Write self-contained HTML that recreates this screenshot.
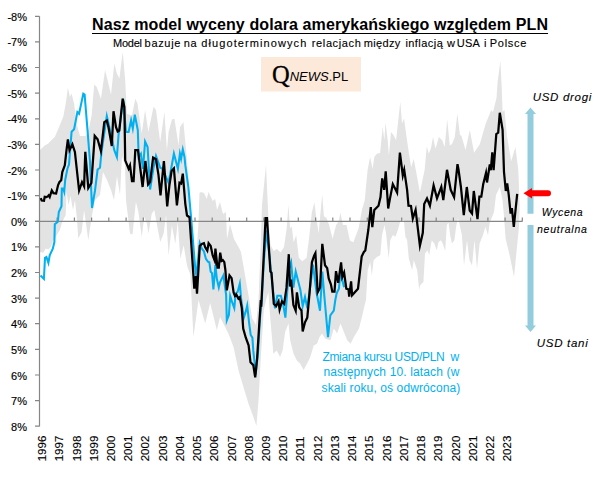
<!DOCTYPE html>
<html><head><meta charset="utf-8"><style>
html,body{margin:0;padding:0;background:#fff;}
body{width:606px;height:477px;overflow:hidden;position:relative;font-family:"Liberation Sans",sans-serif;}
svg{position:absolute;left:0;top:0;}
.t{position:absolute;white-space:nowrap;}
.sw{position:absolute;top:0;white-space:nowrap;}
.it{-webkit-text-stroke:0.1px #000;}
</style></head><body>
<svg width="606" height="477" viewBox="0 0 606 477">
<polygon points="40.0,150.0 44.7,145.4 48.0,143.7 51.4,140.3 54.8,137.0 59.8,125.2 63.2,117.1 65.7,103.7 67.9,87.8 69.9,97.0 71.6,93.6 74.1,103.7 76.6,123.8 80.0,136.0 86.0,136.0 89.0,128.0 91.7,115.0 94.2,84.4 96.7,86.9 100.9,98.7 105.1,70.1 107.6,80.2 111.0,94.5 114.3,63.4 116.9,73.5 119.4,78.5 122.7,51.7 125.2,80.2 126.9,113.8 132.0,115.4 135.3,98.7 137.5,103.4 141.7,133.6 145.1,110.1 148.4,132.0 153.5,106.8 156.0,110.1 160.2,142.0 164.4,111.8 166.9,150.4 168.6,132.0 171.9,119.4 174.4,118.5 178.6,145.4 180.0,126.9 183.4,121.9 186.7,157.1 190.0,200.0 192.0,250.0 196.0,262.0 198.5,222.0 199.5,193.0 201.0,192.0 204.0,193.0 206.8,199.0 208.5,192.0 212.7,201.0 215.2,199.0 217.0,210.0 220.0,202.0 223.0,214.0 226.0,212.0 227.0,239.0 230.0,224.0 234.0,239.0 238.8,247.6 241.0,252.0 249.0,298.0 252.0,318.0 256.0,325.0 258.5,300.0 260.5,250.0 262.0,205.0 266.0,165.0 268.5,219.7 270.5,245.0 273.7,250.9 277.0,249.0 280.6,252.6 284.0,247.0 286.7,228.3 288.4,204.9 290.1,228.3 291.8,226.6 293.6,242.2 296.2,235.3 298.8,257.8 302.3,261.3 306.6,257.8 309.2,237.0 311.8,212.7 314.4,202.3 316.1,216.2 318.7,233.5 320.5,212.7 322.2,194.5 323.9,216.2 326.5,217.9 329.1,224.9 332.6,238.7 336.1,224.9 338.7,221.4 340.4,212.7 343.0,224.9 346.5,224.9 349.9,240.5 353.4,242.2 358.6,228.3 362.1,209.3 364.7,200.6 367.6,170.0 370.1,157.1 372.6,168.9 374.3,157.1 376.8,153.8 380.1,152.9 382.7,126.9 384.3,140.3 385.5,122.7 387.7,140.3 388.9,155.4 391.0,132.0 393.6,135.3 396.1,140.3 400.3,101.7 402.0,123.6 404.0,118.5 407.0,140.3 409.5,157.1 411.2,167.2 413.7,158.8 416.2,172.0 419.9,192.6 424.6,170.0 426.8,146.2 428.8,153.8 431.0,148.0 433.0,137.0 435.5,148.7 438.9,137.0 442.2,140.3 444.7,147.0 447.2,119.4 449.8,145.4 452.0,144.0 454.8,137.0 457.3,113.5 460.0,135.3 461.3,135.6 465.5,149.9 469.8,129.9 474.1,152.7 479.8,144.2 485.5,124.2 491.2,109.9 493.0,112.0 496.5,98.0 497.6,82.0 500.4,60.7 501.6,85.0 502.6,112.0 504.5,110.0 506.9,135.6 511.2,161.3 515.4,147.0 518.3,169.8 519.7,206.0 519.7,206.0 519.0,226.8 516.5,251.9 514.0,277.1 511.4,263.7 508.9,251.9 505.6,238.5 503.9,215.0 502.5,200.0 499.8,187.0 496.0,195.0 494.0,212.0 492.1,216.7 489.6,223.4 488.0,235.2 485.4,226.8 482.9,235.2 479.6,243.6 477.0,268.7 474.5,240.2 472.0,265.4 469.5,260.3 467.0,240.2 464.0,265.4 461.9,235.2 459.4,223.4 457.8,218.4 456.1,226.8 454.4,240.2 451.9,243.6 450.2,235.2 448.5,222.6 446.8,225.1 445.2,251.1 442.7,243.6 441.0,240.2 438.5,241.9 436.8,250.3 434.3,243.6 431.7,240.2 429.2,255.3 427.6,250.3 425.0,253.6 423.4,282.0 420.0,285.5 419.2,290.0 417.2,270.3 413.8,260.3 412.1,270.3 408.8,258.6 407.1,240.1 405.4,236.8 403.8,220.0 401.3,220.0 399.6,223.4 397.9,230.1 395.4,236.8 392.9,235.1 390.3,240.1 388.7,258.6 386.1,233.4 384.5,225.0 382.0,235.1 380.3,255.2 376.9,256.9 373.6,260.3 371.9,275.4 370.2,262.0 367.7,270.3 366.0,300.0 365.0,303.4 362.3,315.2 359.0,328.6 353.9,337.0 350.6,343.7 347.2,340.3 343.9,332.0 340.5,323.6 337.1,333.6 333.8,328.6 330.4,340.3 325.4,338.7 322.0,333.6 319.5,337.0 317.0,343.7 313.7,345.4 310.3,357.1 307.0,363.8 303.6,370.0 300.2,363.8 296.9,360.5 293.5,353.8 290.2,340.3 288.5,323.6 285.1,332.0 282.6,350.4 280.1,357.1 276.7,350.4 273.4,353.8 270.0,315.2 268.4,292.0 266.0,300.0 263.8,310.3 261.0,353.9 258.7,397.5 256.4,426.0 253.7,417.7 248.7,404.2 243.6,387.4 238.6,370.7 233.6,347.2 228.5,333.8 220.0,317.0 216.9,330.3 210.2,303.0 205.2,323.6 198.5,300.1 193.4,337.0 190.4,275.0 187.0,265.5 183.7,245.3 180.3,258.8 177.8,221.8 175.3,243.7 171.9,225.2 168.6,255.4 166.1,215.1 163.6,233.6 160.2,242.0 156.8,223.5 154.3,210.1 151.8,213.5 148.5,233.6 146.8,223.5 144.3,216.8 141.7,237.0 138.4,211.8 135.9,201.7 132.5,234.4 130.0,233.6 126.0,200.0 125.0,165.0 122.0,156.0 120.0,195.0 117.0,176.0 114.0,200.0 111.0,190.0 107.0,180.0 103.0,172.0 100.0,195.0 95.0,200.0 91.7,216.8 88.3,240.3 84.1,210.0 81.6,231.9 78.3,238.6 77.0,220.0 75.0,200.0 73.0,210.0 70.5,196.0 68.5,205.0 66.5,192.0 65.7,215.0 62.3,221.8 59.8,230.0 56.5,235.5 53.2,240.5 50.7,247.0 48.3,249.5 45.8,248.5 43.3,252.8 40.0,252.0" fill="#e3e3e3"/>
<path d="M39.5,16.3V426.5 M35,16.3H39.5M35,41.9H39.5M35,67.5H39.5M35,93.2H39.5M35,118.8H39.5M35,144.4H39.5M35,170.0H39.5M35,195.6H39.5M35,221.3H39.5M35,246.9H39.5M35,272.5H39.5M35,298.1H39.5M35,323.7H39.5M35,349.4H39.5M35,375.0H39.5M35,400.6H39.5M35,426.2H39.5" stroke="#868686" stroke-width="1.2" fill="none"/>
<path d="M35,221.4H522.5 M57.1,217.4V221.4M74.4,217.4V221.4M91.6,217.4V221.4M108.8,217.4V221.4M126.1,217.4V221.4M143.3,217.4V221.4M160.5,217.4V221.4M177.7,217.4V221.4M195.0,217.4V221.4M212.2,217.4V221.4M229.4,217.4V221.4M246.7,217.4V221.4M263.9,217.4V221.4M281.1,217.4V221.4M298.3,217.4V221.4M315.6,217.4V221.4M332.8,217.4V221.4M350.0,217.4V221.4M367.3,217.4V221.4M384.5,217.4V221.4M401.7,217.4V221.4M419.0,217.4V221.4M436.2,217.4V221.4M453.4,217.4V221.4M470.6,217.4V221.4M487.9,217.4V221.4M505.1,217.4V221.4M522.3,217.4V221.4" stroke="#868686" stroke-width="1.2" fill="none"/>
<polyline points="40.5,275.5 43.9,278.9 45.0,257.9 46.4,257.0 48.4,262.9 49.7,255.4 52.8,248.7 54.4,242.0 54.8,224.3 57.8,221.8 58.8,212.0 61.5,206.2 61.8,188.5 63.2,188.5 64.2,191.7 65.2,180.0 67.4,168.7 69.0,164.5 71.6,131.7 74.1,129.2 77.4,112.1 79.1,113.8 83.3,93.6 84.6,94.5 87.5,130.0 90.0,162.0 92.0,208.0 95.0,190.5 97.6,169.5 100.0,167.8 101.4,152.7 106.8,116.0 110.1,130.3 114.3,150.2 116.9,157.0 118.5,135.3 123.1,98.8 126.0,132.0 128.6,132.0 131.1,120.2 132.8,128.6 134.8,114.7 137.8,130.2 138.7,157.0 140.9,153.8 143.0,168.9 145.1,141.5 147.6,147.0 150.1,189.5 153.5,167.7 156.0,156.0 160.2,167.7 162.2,168.5 168.6,182.8 173.9,153.5 177.9,168.8 179.9,153.5 181.1,158.8 182.8,149.4 184.5,157.0 185.3,165.2 188.4,187.3 191.2,218.9 195.1,266.8 196.4,275.9 199.8,243.2 201.8,248.6 203.9,251.3 205.9,258.8 207.9,261.6 209.3,262.2 210.7,271.8 212.0,273.1 213.4,289.5 215.4,265.0 216.8,278.6 218.8,287.5 220.0,282.3 223.4,275.4 226.1,294.5 226.8,320.4 228.9,315.0 230.2,295.9 232.3,302.7 234.3,308.1 235.7,293.2 237.7,291.8 239.8,283.6 241.1,298.6 243.8,317.7 245.9,310.9 247.2,305.4 249.3,324.5 250.7,335.0 252.4,337.7 253.3,350.9 255.2,367.9 256.1,370.8 258.0,352.8 259.9,318.9 261.8,300.0 263.9,260.5 266.6,230.3 270.4,264.6 271.5,276.1 275.0,308.4 277.3,295.7 280.8,295.7 283.1,303.8 285.4,317.6 288.8,269.2 291.1,262.3 293.4,287.7 295.7,271.5 300.4,290.0 302.7,306.1 305.0,296.9 307.3,308.4 310.7,283.0 313.0,264.6 316.5,292.3 320.0,310.7 322.3,271.5 324.6,299.2 328.0,337.2 330.3,315.3 333.8,310.7 335.3,300.0 336.7,293.0 338.9,288.7 340.4,272.5 341.9,278.4 344.1,287.2" fill="none" stroke="#00b0f0" stroke-width="2.05" stroke-linejoin="miter" stroke-miterlimit="6"/>
<polyline points="40.7,198.1 41.7,200.5 44.0,200.8 44.7,196.8 46.4,197.1 48.1,196.1 48.7,195.4 49.7,197.1 51.8,190.4 53.4,193.1 56.1,193.4 58.1,185.0 59.5,182.0 61.2,180.3 62.3,172.0 64.8,165.3 66.5,150.2 67.9,139.3 69.5,150.2 72.4,144.3 74.9,151.9 79.1,190.5 82.0,182.1 84.1,186.3 85.3,151.9 88.3,188.0 91.4,182.9 94.7,135.9 97.6,139.3 100.9,151.0 102.6,136.8 104.3,122.1 106.8,120.5 108.5,127.2 111.8,146.0 113.5,111.2 116.0,127.2 117.7,131.5 119.3,130.5 122.7,98.7 124.4,107.0 125.2,160.3 128.6,168.7 130.0,165.3 132.0,181.2 133.6,181.2 135.3,150.2 138.0,150.1 142.6,187.0 145.4,161.0 148.1,184.5 150.1,182.0 153.1,157.6 156.0,159.3 158.5,175.2 160.5,195.4 163.9,161.0 167.2,206.3 169.4,185.3 171.6,171.0 173.9,168.5 176.9,205.4 179.5,182.8 181.1,183.6 182.8,173.6 185.3,203.8 187.0,215.5 189.5,217.2 194.3,288.7 195.9,276.1 197.0,293.6 199.8,245.9 201.8,243.9 203.9,243.2 205.2,247.3 207.3,250.7 208.6,243.2 210.7,245.9 212.7,255.4 214.8,260.9 215.4,248.6 217.5,267.7 218.8,267.7 220.2,252.7 221.6,260.9 222.9,260.2 224.3,262.2 225.4,270.0 226.8,290.4 229.5,275.4 231.6,278.2 233.6,292.5 235.0,295.9 236.3,294.5 238.4,298.6 239.8,297.2 241.8,308.1 243.2,328.6 245.8,337.7 248.6,345.3 250.5,362.3 253.3,365.1 255.2,377.4 257.1,358.5 259.0,328.3 260.8,300.0 261.2,306.8 262.2,287.0 265.6,218.0 267.0,218.0 270.4,271.5 271.5,272.7 273.8,303.8 276.1,306.1 278.5,301.5 279.6,309.6 281.9,301.5 284.2,303.8 286.5,287.7 288.8,254.2 290.0,286.5 291.1,279.6 293.4,305.0 295.7,310.7 296.9,292.3 299.2,307.3 301.5,310.7 302.7,331.5 305.0,322.3 307.3,317.6 309.6,292.3 311.9,262.3 314.2,255.4 315.4,253.1 317.7,292.3 320.0,287.7 322.3,243.8 325.0,265.2 327.2,268.1 328.7,278.4 330.9,284.3 332.3,291.6 334.5,291.6 336.0,271.1 338.2,282.8 341.1,262.3 342.3,276.9 344.1,272.5 346.3,288.7 348.5,289.4 349.2,296.7 351.1,281.3 352.1,295.3 358.0,288.7 361.7,256.4 363.9,252.0 365.3,250.5 368.3,230.0 370.8,207.1 372.3,227.1 374.3,209.9 378.5,205.7 380.5,197.1 382.2,178.4 384.2,189.8 385.7,171.3 388.2,208.5 390.0,198.4 392.8,184.1 397.1,192.6 399.9,152.7 402.8,175.5 404.2,169.8 407.1,189.8 408.5,205.7 411.0,206.0 412.8,218.5 415.6,209.9 419.9,245.6 422.8,232.8 424.2,204.0 427.0,198.4 429.9,205.7 433.6,185.5 437.0,198.4 441.3,186.9 443.3,200.0 447.0,169.8 450.7,189.8 454.1,197.1 457.5,164.1 458.5,169.4 460.9,187.0 463.8,215.2 466.8,187.0 469.7,210.5 472.0,213.5 473.8,191.0 477.5,219.2 479.4,196.6 481.3,196.6 483.2,184.3 486.0,173.0 487.0,182.5 489.8,164.5 490.8,170.2 492.3,152.3 493.6,170.2 496.3,134.0 498.2,132.7 499.8,112.8 502.6,129.9 504.0,172.0 505.8,191.0 507.2,183.4 508.7,194.7 510.6,213.6 511.9,208.0 513.8,226.8 517.2,193.8" fill="none" stroke="#000" stroke-width="2.25" stroke-linejoin="miter" stroke-miterlimit="6"/>
<g font-size="11" fill="#000" stroke="#000" stroke-width="0.15" font-family="Liberation Sans, sans-serif">
<text x="27" y="20.8" text-anchor="end">-8%</text><text x="27" y="46.4" text-anchor="end">-7%</text><text x="27" y="72.0" text-anchor="end">-6%</text><text x="27" y="97.7" text-anchor="end">-5%</text><text x="27" y="123.3" text-anchor="end">-4%</text><text x="27" y="148.9" text-anchor="end">-3%</text><text x="27" y="174.5" text-anchor="end">-2%</text><text x="27" y="200.1" text-anchor="end">-1%</text><text x="27" y="225.8" text-anchor="end">0%</text><text x="27" y="251.4" text-anchor="end">1%</text><text x="27" y="277.0" text-anchor="end">2%</text><text x="27" y="302.6" text-anchor="end">3%</text><text x="27" y="328.2" text-anchor="end">4%</text><text x="27" y="353.9" text-anchor="end">5%</text><text x="27" y="379.5" text-anchor="end">6%</text><text x="27" y="405.1" text-anchor="end">7%</text><text x="27" y="430.7" text-anchor="end">8%</text>
</g>
<g font-size="11.5" fill="#000" stroke="#000" stroke-width="0.12" font-family="Liberation Sans, sans-serif">
<text transform="translate(46.0,461.3) rotate(-90)">1996</text><text transform="translate(63.2,461.3) rotate(-90)">1997</text><text transform="translate(80.5,461.3) rotate(-90)">1998</text><text transform="translate(97.7,461.3) rotate(-90)">1999</text><text transform="translate(114.9,461.3) rotate(-90)">2000</text><text transform="translate(132.2,461.3) rotate(-90)">2001</text><text transform="translate(149.4,461.3) rotate(-90)">2002</text><text transform="translate(166.6,461.3) rotate(-90)">2003</text><text transform="translate(183.8,461.3) rotate(-90)">2004</text><text transform="translate(201.1,461.3) rotate(-90)">2005</text><text transform="translate(218.3,461.3) rotate(-90)">2006</text><text transform="translate(235.5,461.3) rotate(-90)">2007</text><text transform="translate(252.8,461.3) rotate(-90)">2008</text><text transform="translate(270.0,461.3) rotate(-90)">2009</text><text transform="translate(287.2,461.3) rotate(-90)">2010</text><text transform="translate(304.4,461.3) rotate(-90)">2011</text><text transform="translate(321.7,461.3) rotate(-90)">2012</text><text transform="translate(338.9,461.3) rotate(-90)">2013</text><text transform="translate(356.1,461.3) rotate(-90)">2014</text><text transform="translate(373.4,461.3) rotate(-90)">2015</text><text transform="translate(390.6,461.3) rotate(-90)">2016</text><text transform="translate(407.8,461.3) rotate(-90)">2017</text><text transform="translate(425.1,461.3) rotate(-90)">2018</text><text transform="translate(442.3,461.3) rotate(-90)">2019</text><text transform="translate(459.5,461.3) rotate(-90)">2020</text><text transform="translate(476.8,461.3) rotate(-90)">2021</text><text transform="translate(494.0,461.3) rotate(-90)">2022</text><text transform="translate(511.2,461.3) rotate(-90)">2023</text>
</g>
<rect x="261" y="57" width="100" height="34.5" fill="#fde9d9"/>
<path d="M530.5,113V213.7 M530.5,225V326" stroke="#93cddd" stroke-width="6"/>
<path d="M525,114L530.5,107.5L536,114Z M525,325.5L530.5,332L536,325.5Z" fill="#93cddd"/>
<path d="M531,193.3H548" stroke="#ff0000" stroke-width="6" stroke-linecap="round"/>
<path d="M523.5,193.3L532,188L532,198.6Z" fill="#ff0000"/>
</svg>
<div class="t" id="title" style="left:92px;top:15.5px;font-size:16px;letter-spacing:0.1px;text-decoration-thickness:1.5px;text-decoration-skip-ink:none;text-underline-offset:2.5px;font-weight:bold;text-decoration:underline;">Nasz model wyceny dolara amerykańskiego względem PLN</div>
<div id="sub" style="position:absolute;left:0;top:36.9px;font-size:11px;-webkit-text-stroke:0.12px #000;"><span class="sw" style="left:113.0px;letter-spacing:-0.23px">Model</span><span class="sw" style="left:144.6px;letter-spacing:0.68px">bazuje</span><span class="sw" style="left:183.7px;letter-spacing:0.8px">na</span><span class="sw" style="left:201.3px;letter-spacing:1.09px">długoterminowych</span><span class="sw" style="left:311.8px;letter-spacing:0.62px">relacjach</span><span class="sw" style="left:363.8px;letter-spacing:0.32px">między</span><span class="sw" style="left:405.4px;letter-spacing:0.45px">inflacją</span><span class="sw" style="left:447.0px;letter-spacing:0px">w</span><span class="sw" style="left:456.8px;letter-spacing:0.25px">USA</span><span class="sw" style="left:484.0px;letter-spacing:0px">i</span><span class="sw" style="left:489.8px;letter-spacing:0.72px">Polsce</span></div>
<div class="t" id="logo" style="left:272px;top:60.5px;"><span style="font-family:'Liberation Serif',serif;font-size:24.5px;-webkit-text-stroke:0.3px #000;">Q</span><span style="font-style:italic;font-size:13px;position:relative;top:-1.5px;">NEWS</span><span style="font-size:13px;position:relative;top:-1.5px;">.PL</span></div>
<div class="t it" id="drogi" style="left:532.7px;top:91px;font-size:11.5px;letter-spacing:0.7px;font-style:italic;">USD drogi</div>
<div class="t it" id="wyc" style="left:541.7px;top:206px;font-size:10.5px;letter-spacing:0.6px;font-style:italic;">Wycena</div>
<div class="t it" id="neut" style="left:536.9px;top:222.7px;font-size:10.5px;letter-spacing:0.78px;font-style:italic;">neutralna</div>
<div class="t it" id="tani" style="left:536.8px;top:337px;font-size:11.5px;letter-spacing:0.7px;font-style:italic;">USD tani</div>
<div class="t" id="b1" style="left:322.4px;top:349.6px;font-size:12px;color:#00b0f0;letter-spacing:-0.3px;">Zmiana kursu USD/PLN&nbsp; w</div>
<div class="t" id="b2" style="left:323.4px;top:365.4px;font-size:12px;color:#00b0f0;letter-spacing:0.14px;">następnych 10. latach (w</div>
<div class="t" id="b3" style="left:321.6px;top:380.5px;font-size:12px;color:#00b0f0;letter-spacing:0.11px;">skali roku, oś odwrócona)</div>
</body></html>
